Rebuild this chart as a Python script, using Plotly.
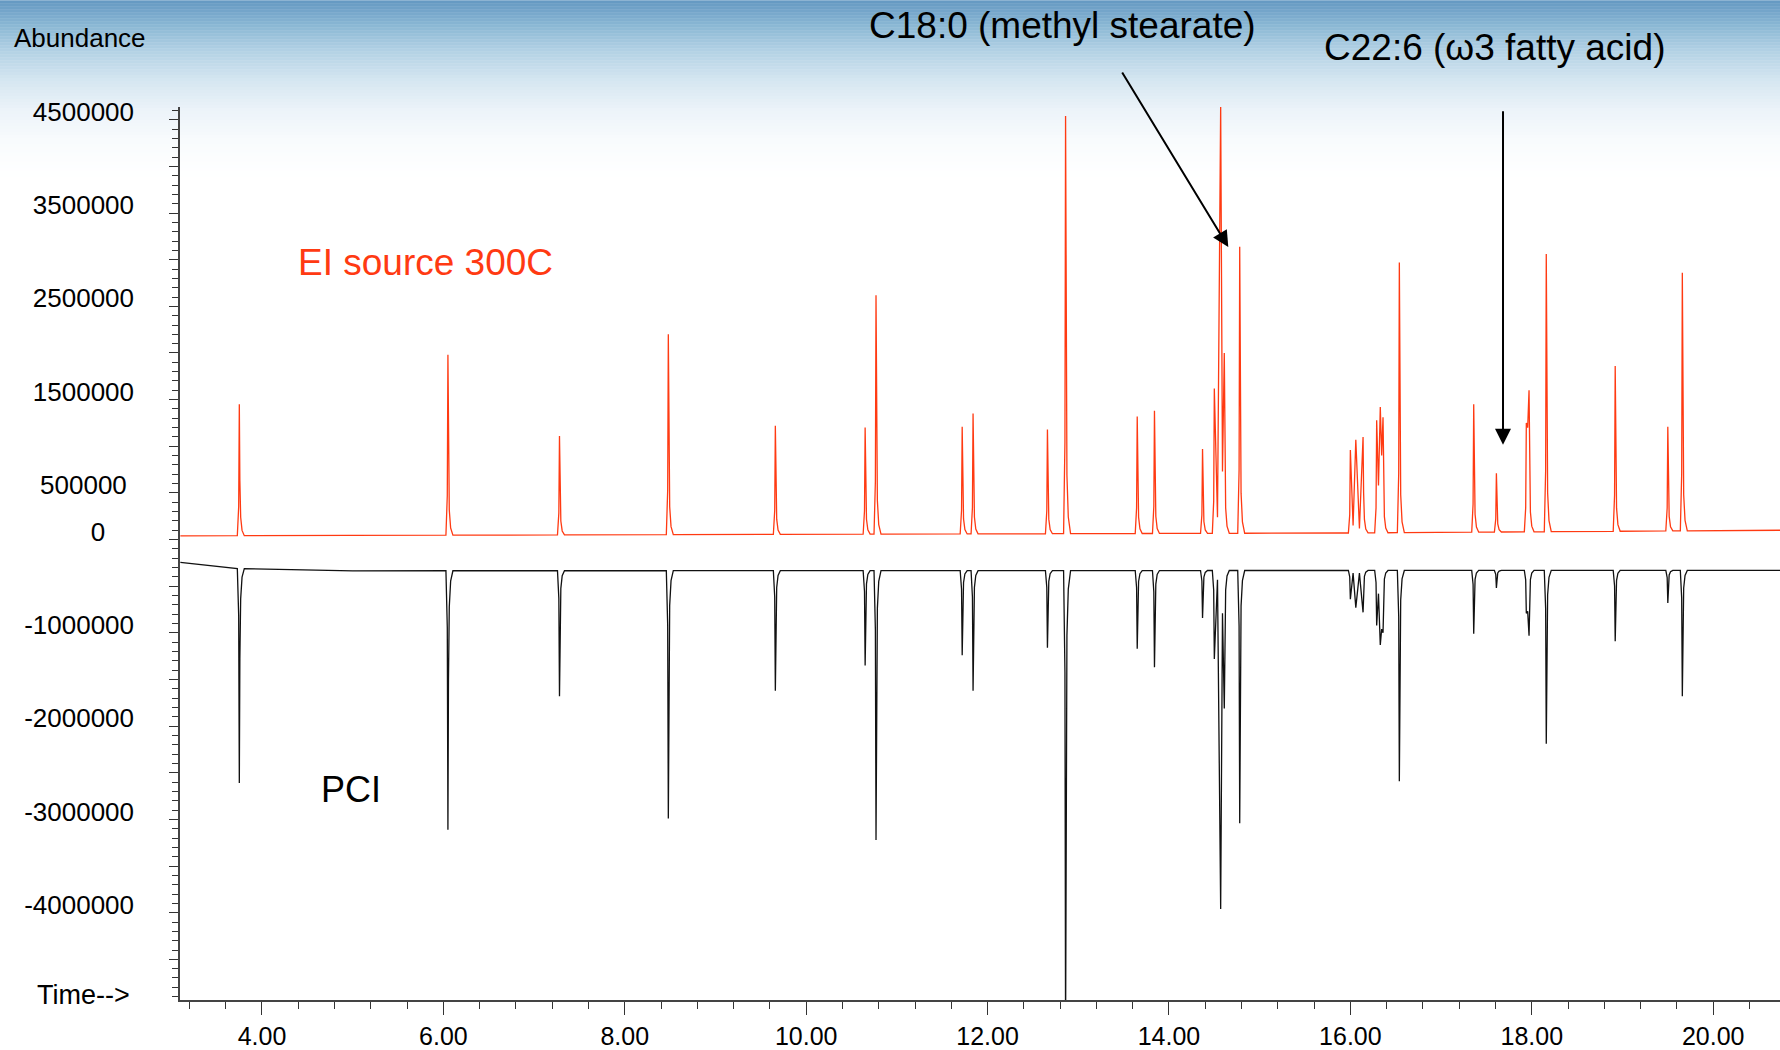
import numpy as np
import plotly.graph_objects as go

# ---------------- data (abundance in counts, time in minutes) ----------------
# EI (red, positive) peak table
ei_rt = [3.75, 6.05, 7.28, 8.48, 9.66, 10.65, 10.77, 11.72, 11.84, 12.66, 12.86,
         13.65, 13.84, 14.37, 14.50, 14.57, 14.61, 14.78,
         16.00, 16.06, 16.14, 16.29, 16.33, 16.36, 16.54,
         17.36, 17.61, 17.94, 17.97, 18.16, 18.92, 19.50, 19.66]
ei_apex = [1.45e6, 1.98e6, 1.11e6, 2.20e6, 1.22e6, 1.20e6, 2.62e6, 1.21e6, 1.35e6, 1.18e6, 4.54e6,
           1.32e6, 1.38e6, 0.97e6, 1.62e6, 4.65e6, 2.00e6, 3.14e6,
           0.96e6, 1.07e6, 1.10e6, 1.28e6, 1.42e6, 1.31e6, 2.97e6,
           1.45e6, 0.71e6, 1.25e6, 1.60e6, 3.06e6, 1.86e6, 1.21e6, 2.86e6]
# valley between a peak and the next one (None = signal returns to baseline)
ei_valley_after = [None, None, None, None, None, None, None, None, None, None, None,
                   None, None, None, 0.24e6, 0.73e6, None, None,
                   0.15e6, 0.12e6, None, 0.58e6, 0.90e6, None, None,
                   None, None, 1.20e6, None, None, None, None, None]
ei_base_t = [3.10, 15.90, 20.74]
ei_base_v = [0.04e6, 0.07e6, 0.10e6]

# PCI (black, plotted negative) peak table
pci_rt = ei_rt
pci_apex = [-2.61e6, -3.11e6, -1.68e6, -2.99e6, -1.62e6, -1.35e6, -3.22e6, -1.24e6, -1.62e6, -1.16e6, -5.30e6,
            -1.17e6, -1.37e6, -0.84e6, -1.28e6, -3.96e6, -1.81e6, -3.04e6,
            -0.64e6, -0.73e6, -0.78e6, -0.92e6, -1.13e6, -1.00e6, -2.59e6,
            -1.01e6, -0.52e6, -0.79e6, -1.03e6, -2.19e6, -1.09e6, -0.68e6, -1.68e6]
pci_valley_after = [None, None, None, None, None, None, None, None, None, None, None,
                    None, None, None, -0.43e6, -0.79e6, None, None,
                    -0.36e6, -0.36e6, None, -0.58e6, -0.96e6, None, None,
                    None, None, -0.77e6, None, None, None, None, None]
pci_base_t = [3.10, 3.70, 5.00, 20.74]
pci_base_v = [-0.245e6, -0.31e6, -0.335e6, -0.33e6]

# axis tick labels
x_tick_vals = [4, 6, 8, 10, 12, 14, 16, 18, 20]
x_tick_text = ["4.00", "6.00", "8.00", "10.00", "12.00", "14.00", "16.00", "18.00", "20.00"]
y_label_vals = [4.5e6, 3.5e6, 2.5e6, 1.5e6, 0.5e6, 0, -1e6, -2e6, -3e6, -4e6]
y_label_text = ["4500000", "3500000", "2500000", "1500000", "500000\u00a0", "0\u00a0\u00a0\u00a0\u00a0",
                "-1000000", "-2000000", "-3000000", "-4000000"]

# ---------------- rendering helpers (peak outline style) ----------------
LEFT_DT, LEFT_F = [-0.022, -0.007], [0.0, 0.22]
RIGHT_DT, RIGHT_F = [0.006, 0.015, 0.03, 0.055], [0.42, 0.14, 0.04, 0.0]


def trace_xy(rt, apex, valley_after, base_t, base_v):
    bl = lambda t: float(np.interp(t, base_t, base_v))
    pts = [(t, v) for t, v in zip(base_t, base_v)]
    prev_valley = False
    for i, (t, h) in enumerate(zip(rt, apex)):
        if not prev_valley:
            for dt, f in zip(LEFT_DT, LEFT_F):
                b = bl(t + dt)
                pts.append((t + dt, b + f * (h - b)))
        pts.append((t, h))
        v = valley_after[i]
        if v is None:
            for dt, f in zip(RIGHT_DT, RIGHT_F):
                b = bl(t + dt)
                pts.append((t + dt, b + f * (h - b)))
            prev_valley = False
        else:
            pts.append(((t + rt[i + 1]) / 2, v))
            prev_valley = True
    pts.sort(key=lambda p: p[0])
    return [p[0] for p in pts], [p[1] for p in pts]


FONT = "Liberation Sans, Arial, Helvetica, sans-serif"
W, H = 1780, 1050
L, R, T, B = 180, 1780, 107, 1003  # plot area in pixels


def px(x):
    return (x - L) / (R - L)


def py(y):
    return (B - y) / (B - T)


ex, ey = trace_xy(ei_rt, ei_apex, ei_valley_after, ei_base_t, ei_base_v)
cx, cy = trace_xy(pci_rt, pci_apex, pci_valley_after, pci_base_t, pci_base_v)

fig = go.Figure()
fig.add_trace(go.Scatter(x=ex, y=ey, mode="lines", line=dict(color="#ff3a12", width=1.3),
                         hoverinfo="skip", showlegend=False))
fig.add_trace(go.Scatter(x=cx, y=cy, mode="lines", line=dict(color="#111111", width=1.3),
                         hoverinfo="skip", showlegend=False))

# background gradient (top band, blue to white)
stops = [(0, (100, 152, 194)), (25, (138, 183, 212)), (50, (178, 209, 228)),
         (80, (213, 230, 241)), (110, (236, 243, 249)), (140, (248, 251, 253)), (175, (255, 255, 255))]
shapes = []
step = 3
for y0 in range(0, 175, step):
    ym = y0 + step / 2
    for (a, ca), (b, cb) in zip(stops[:-1], stops[1:]):
        if a <= ym <= b:
            f = (ym - a) / (b - a)
            c = tuple(int(round(ca[k] + f * (cb[k] - ca[k]))) for k in range(3))
            break
    shapes.append(dict(type="rect", xref="paper", yref="paper", x0=px(0), x1=px(W),
                       y0=py(y0 + step + 0.5), y1=py(y0), fillcolor="rgb(%d,%d,%d)" % c,
                       line=dict(width=0), layer="below"))

annotations = [
    dict(text="Abundance", x=px(12), y=py(37.5), xanchor="left", yanchor="middle",
         font=dict(size=26, color="black", family=FONT)),
    dict(text="Time-->", x=px(35), y=py(998), xanchor="left", yanchor="middle",
         font=dict(size=27, color="black", family=FONT)),
    dict(text="EI source 300C", x=px(296), y=py(263), xanchor="left", yanchor="middle",
         font=dict(size=37, color="#ff3a12", family=FONT)),
    dict(text="PCI", x=px(319), y=py(792), xanchor="left", yanchor="middle",
         font=dict(size=36, color="black", family=FONT)),
    dict(text="C18:0 (methyl stearate)", x=px(867), y=py(25), xanchor="left", yanchor="middle",
         font=dict(size=37, color="black", family=FONT)),
    dict(text="C22:6 (\u03c93 fatty acid)", x=px(1322), y=py(47.5), xanchor="left", yanchor="middle",
         font=dict(size=37, color="black", family=FONT)),
]
for a in annotations:
    a.update(xref="paper", yref="paper", showarrow=False)

# arrows pointing at the labelled peaks
annotations.append(dict(x=14.654, y=3.136e6, xref="x", yref="y", text="", showarrow=True,
                        ax=-107, ay=-176, arrowhead=2, arrowsize=1.6, arrowwidth=2,
                        arrowcolor="black", standoff=0))
annotations.append(dict(x=17.683, y=1.015e6, xref="x", yref="y", text="", showarrow=True,
                        ax=0, ay=-335, arrowhead=2, arrowsize=1.6, arrowwidth=2,
                        arrowcolor="black", standoff=0))

y_major = [v * 0.5e6 for v in range(-9, 10)]
y_major_text = []
for v in y_major:
    if v in y_label_vals:
        y_major_text.append(y_label_text[y_label_vals.index(v)])
    else:
        y_major_text.append("")

fig.update_layout(
    width=W, height=H,
    margin=dict(l=L, r=W - R, t=T, b=H - B, pad=0),
    paper_bgcolor="white", plot_bgcolor="rgba(0,0,0,0)",
    shapes=shapes, annotations=annotations,
    font=dict(family=FONT, color="black"),
    xaxis=dict(range=[3.096, 20.737], tickmode="array", tickvals=x_tick_vals, ticktext=x_tick_text,
               ticks="outside", ticklen=13, tickwidth=1.2, tickcolor="#333",
               showline=True, linecolor="#444", linewidth=1.5, showgrid=False, zeroline=False,
               tickfont=dict(size=25, color="black", family=FONT),
               minor=dict(tickmode="linear", tick0=0, dtick=0.4, ticks="outside", ticklen=7,
                          tickwidth=1.1, tickcolor="#333", showgrid=False)),
    yaxis=dict(range=[-4.936e6, 4.637e6], tickmode="array", tickvals=y_major, ticktext=y_major_text,
               ticks="outside", ticklen=9, tickwidth=1.2, tickcolor="#333",
               showline=True, linecolor="#444", linewidth=1.5, showgrid=False, zeroline=False,
               tickfont=dict(size=26, color="black", family=FONT),
               ticklabelshift=-8, ticklabelstandoff=30,
               minor=dict(tickmode="linear", tick0=0, dtick=1e5, ticks="outside", ticklen=6,
                          tickwidth=1.0, tickcolor="#333", showgrid=False)),
)

fig.write_html("out.html", config={"displayModeBar": False},
               post_script="document.body.style.margin='0px';document.body.style.overflow='hidden';")
